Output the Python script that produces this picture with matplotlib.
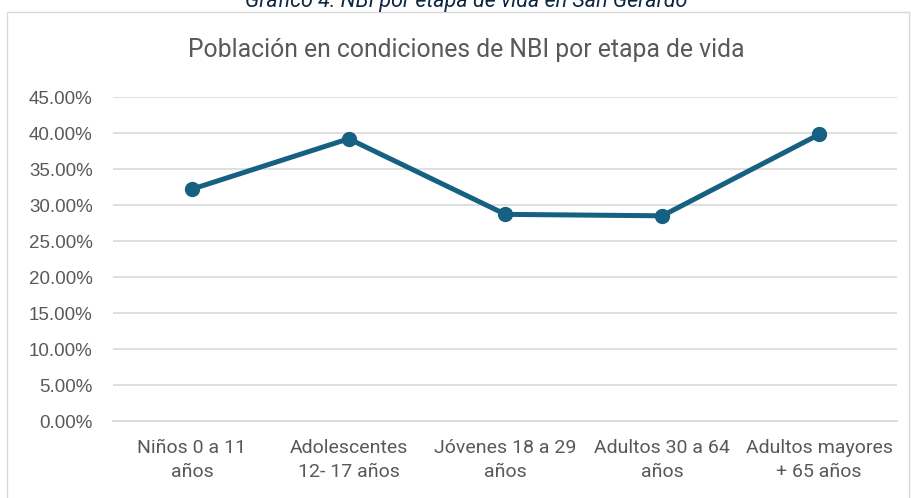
import matplotlib.pyplot as plt
from matplotlib.patches import Rectangle

# data
etapas = ['Niños 0 a 11\naños', 'Adolescentes\n12- 17 años', 'Jóvenes 18 a 29\naños',
          'Adultos 30 a 64\naños', 'Adultos mayores\n+ 65 años']
nbi = [0.322, 0.392, 0.287, 0.285, 0.398]
yticks = [0.0, 0.05, 0.10, 0.15, 0.20, 0.25, 0.30, 0.35, 0.40, 0.45]

fig = plt.figure(figsize=(9.12, 4.98), dpi=100)
ax = fig.add_axes([113.5/912, 1-421/498, (897.5-113.5)/912, (421-97)/498])

# chart frame
fig.patches.append(Rectangle((7/912, -0.05), 902/912, 1-12/498+0.05, transform=fig.transFigure,
                             fill=False, edgecolor='#d9d9d9', lw=1.0))

x = range(len(etapas))
ax.plot(x, nbi, color='#166082', lw=3.6, marker='o', ms=10, solid_capstyle='round', zorder=3)

ax.set_xlim(-0.5, len(etapas)-0.5)
ax.set_ylim(0, 0.45)
ax.set_yticks(yticks)
ax.set_yticklabels(['%.2f%%' % (v*100) for v in yticks], fontsize=13.5, color='#595959',
                   family=['Liberation Sans', 'DejaVu Sans'])
ax.grid(axis='y', color='#d9d9d9', lw=1.2)
ax.set_axisbelow(True)
for s in ax.spines.values():
    s.set_visible(False)
ax.spines['bottom'].set_visible(True)
ax.spines['bottom'].set_color('#d9d9d9')
ax.spines['bottom'].set_linewidth(1.2)
ax.tick_params(length=0)
ax.tick_params(axis='y', pad=15)
ax.set_xticks(list(x))
ax.set_xticklabels(etapas, family=['Roboto', 'DejaVu Sans'],
                   fontsize=14, color='#595959', linespacing=1.4)
ax.tick_params(axis='x', pad=13)

fig.text(466/912, 1-50/498, 'Población en condiciones de NBI por etapa de vida', ha='center', va='center',
         fontsize=17.8, color='#595959', family=['Roboto', 'DejaVu Sans'])
fig.text(466/912, 1-1/498, 'Gráfico 4. NBI por etapa de vida en San Gerardo', ha='center', va='center',
         fontsize=15.5, color='#0e2841', style='italic', family=['Roboto', 'DejaVu Sans'])

fig.savefig('out.png', dpi=100)
